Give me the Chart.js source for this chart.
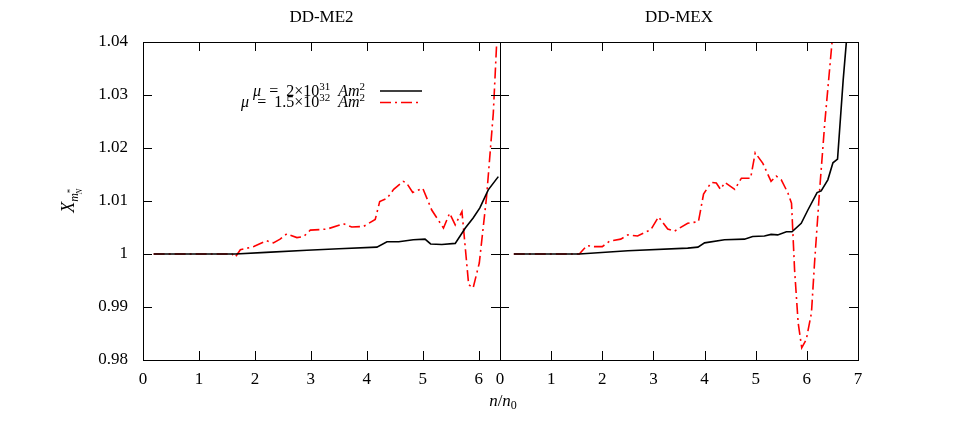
<!DOCTYPE html>
<html>
<head>
<meta charset="utf-8">
<script src="https://cdn.jsdelivr.net/npm/chart.js@4"></script>
<style>
body{margin:0;background:#fff;}
#wrap{position:relative;width:954px;height:424px;}
#wrap canvas{position:absolute;left:0;top:0;}
</style>
</head>
<body>
<div id="wrap">
<canvas id="me2" width="954" height="424"></canvas>
<canvas id="mex" width="954" height="424"></canvas>
</div>
<script>
// panel titles and tick values
const panelTitles = ["DD-ME2", "DD-MEX"];
const yTicks = [0.98, 0.99, 1.00, 1.01, 1.02, 1.03, 1.04];

// DD-ME2, mu = 2e31 Am^2
const me2BlackX = [0.19, 1.65, 2.2, 2.93, 3.5, 4.18, 4.36, 4.57, 4.83, 5.04, 5.14, 5.34, 5.58, 5.76, 5.90, 6.02, 6.17, 6.35];
const me2BlackY = [1, 1, 1.0003, 1.0007, 1.001, 1.0013, 1.0023, 1.0023, 1.0027, 1.0028, 1.0019, 1.0018, 1.002, 1.0049, 1.0068, 1.0087, 1.0121, 1.0146];
// DD-ME2, mu = 1.5e32 Am^2
const me2RedX = [0.19, 1.59, 1.65, 1.74, 1.98, 2.21, 2.33, 2.45, 2.57, 2.75, 2.87, 2.99, 3.29, 3.58, 3.73, 3.94, 4.15, 4.23, 4.36, 4.48, 4.65, 4.71, 4.82, 5.0, 5.16, 5.37, 5.48, 5.58, 5.70, 5.73, 5.82, 5.90, 6.01, 6.14, 6.26, 6.32, 6.36];
const me2RedY = [1, 1, 0.9994, 1.0008, 1.0014, 1.0025, 1.0021, 1.0028, 1.0038, 1.0031, 1.0033, 1.0045, 1.0047, 1.0057, 1.0051, 1.0052, 1.0065, 1.0099, 1.0105, 1.0122, 1.0137, 1.0134, 1.0116, 1.0124, 1.0083, 1.0049, 1.0077, 1.0055, 1.008, 1.0046, 0.9942, 0.9936, 0.9983, 1.0108, 1.0265, 1.0397, 1.046];

// DD-MEX, mu = 2e31 Am^2
const mexBlackX = [0.27, 1.55, 2.50, 3.67, 3.87, 4.0, 4.39, 4.78, 4.94, 5.17, 5.30, 5.43, 5.60, 5.71, 5.89, 6.02, 6.20, 6.28, 6.41, 6.51, 6.60, 6.71, 6.77, 6.80];
const mexBlackY = [1, 1, 1.0006, 1.0011, 1.0013, 1.0021, 1.0027, 1.0028, 1.0033, 1.0034, 1.0037, 1.0036, 1.0042, 1.0042, 1.0058, 1.0083, 1.0116, 1.0119, 1.014, 1.0172, 1.0179, 1.0328, 1.0397, 1.045];
// DD-MEX, mu = 1.5e32 Am^2
const mexRedX = [0.27, 1.55, 1.70, 1.84, 2.0, 2.14, 2.36, 2.50, 2.69, 2.95, 3.10, 3.28, 3.41, 3.67, 3.88, 3.98, 4.13, 4.23, 4.31, 4.40, 4.59, 4.72, 4.90, 4.99, 5.14, 5.30, 5.40, 5.50, 5.63, 5.70, 5.76, 5.83, 5.90, 5.99, 6.09, 6.15, 6.25, 6.35, 6.49, 6.52];
const mexRedY = [1, 1, 1.0016, 1.0014, 1.0014, 1.0024, 1.0028, 1.0036, 1.0034, 1.0046, 1.007, 1.0047, 1.0043, 1.0058, 1.0061, 1.0113, 1.0135, 1.0134, 1.0122, 1.0135, 1.0122, 1.0143, 1.0143, 1.0191, 1.0171, 1.0137, 1.0147, 1.014, 1.0115, 1.0096, 0.997, 0.987, 0.9823, 0.9839, 0.9889, 0.9983, 1.0121, 1.0247, 1.0397, 1.045];

const SERIF = "'Liberation Serif', 'DejaVu Serif', serif";
const redDash = [11, 4, 2, 4];

function pts(xs, ys) {
    return xs.map((x, i) => ({x: x, y: ys[i]}));
}

// draw a run of text pieces with their own fonts and baseline shifts
function drawRuns(ctx, runs, x, y, align) {
    let w = 0;
    runs.forEach(r => { ctx.font = r.f; r.w = ctx.measureText(r.t).width; w += r.w; });
    let cx = align === "right" ? x - w : (align === "center" ? x - w / 2 : x);
    ctx.textAlign = "left";
    ctx.textBaseline = "alphabetic";
    runs.forEach(r => { ctx.font = r.f; ctx.fillText(r.t, cx, y + (r.dy || 0)); cx += r.w; });
}

// gnuplot-like frame with inward ticks on all sides
const framePlugin = {
    id: "frame",
    afterDraw(chart, args, opts) {
        const ctx = chart.ctx, a = chart.chartArea;
        const xs = chart.scales.x, ys = chart.scales.y;
        ctx.save();
        ctx.strokeStyle = "#000";
        ctx.lineWidth = 1;
        ctx.beginPath();
        const L = 9;
        xs.ticks.forEach(t => {
            const px = Math.round(xs.getPixelForValue(t.value)) + 0.5;
            if (px <= a.left + 1 || px >= a.right - 1) return;
            ctx.moveTo(px, a.bottom); ctx.lineTo(px, a.bottom - L);
            ctx.moveTo(px, a.top); ctx.lineTo(px, a.top + L);
        });
        ys.ticks.forEach(t => {
            const py = Math.round(ys.getPixelForValue(t.value)) + 0.5;
            ctx.moveTo(a.left, py); ctx.lineTo(a.left + L, py);
            ctx.moveTo(a.right, py); ctx.lineTo(a.right - L, py);
        });
        ctx.stroke();
        ctx.strokeRect(Math.round(a.left) + 0.5, Math.round(a.top) + 0.5, Math.round(a.right - a.left), Math.round(a.bottom - a.top));

        ctx.fillStyle = "#000";
        ctx.font = "17px " + SERIF;
        ctx.textAlign = "center";
        ctx.textBaseline = "middle";
        ctx.fillText(opts.title, (a.left + a.right) / 2, 18);

        if (opts.legend) {
            const it = "italic 16px " + SERIF, rm = "16px " + SERIF, sup = "11px " + SERIF;
            drawRuns(ctx, [{t: "μ", f: it}, {t: "  =  2×10", f: rm}, {t: "31", f: sup, dy: -6}, {t: "  ", f: rm}, {t: "Am", f: it}, {t: "2", f: sup, dy: -6}], 365, 96, "right");
            drawRuns(ctx, [{t: "μ", f: it}, {t: "  =  1.5×10", f: rm}, {t: "32", f: sup, dy: -6}, {t: "  ", f: rm}, {t: "Am", f: it}, {t: "2", f: sup, dy: -6}], 365, 107, "right");
            ctx.lineWidth = 1.6;
            ctx.strokeStyle = "#000";
            ctx.beginPath(); ctx.moveTo(380, 91); ctx.lineTo(422, 91); ctx.stroke();
            ctx.strokeStyle = "#ff0000";
            ctx.setLineDash(redDash);
            ctx.beginPath(); ctx.moveTo(380, 102.5); ctx.lineTo(422, 102.5); ctx.stroke();
            ctx.setLineDash([]);

            // y axis title X_{m*_N}
            ctx.save();
            ctx.translate(74, 200);
            ctx.rotate(-Math.PI / 2);
            ctx.textAlign = "left";
            ctx.textBaseline = "alphabetic";
            ctx.font = "italic 18px " + SERIF;
            const wX = ctx.measureText("X").width;
            ctx.font = "italic 12px " + SERIF;
            const wm = ctx.measureText("m").width;
            const x0 = -(wX + wm + 6) / 2;
            ctx.font = "italic 18px " + SERIF;
            ctx.fillText("X", x0, 0);
            ctx.font = "italic 12px " + SERIF;
            ctx.fillText("m", x0 + wX, 4);
            ctx.font = "9px " + SERIF;
            ctx.fillText("*", x0 + wX + wm, -1);
            ctx.font = "italic 8px " + SERIF;
            ctx.fillText("N", x0 + wX + wm - 1, 8);
            ctx.restore();
        }
        if (opts.xTitle) {
            drawRuns(ctx, [{t: "n", f: "italic 17px " + SERIF}, {t: "/", f: "17px " + SERIF}, {t: "n", f: "italic 17px " + SERIF}, {t: "0", f: "12px " + SERIF, dy: 3}], 503, 406, "center");
        }
        ctx.restore();
    }
};

function makeChart(id, blackX, blackY, redX, redY, xMax, pad, showY, frameOpts) {
    return new Chart(document.getElementById(id), {
        type: "line",
        data: {
            datasets: [
                {label: "μ = 2×10^31 Am^2", data: pts(blackX, blackY), borderColor: "#000", borderWidth: 1.6, pointRadius: 0, tension: 0},
                {label: "μ = 1.5×10^32 Am^2", data: pts(redX, redY), borderColor: "#ff0000", borderWidth: 1.6, borderDash: redDash, pointRadius: 0, tension: 0}
            ]
        },
        options: {
            responsive: false,
            animation: false,
            events: [],
            layout: {padding: pad},
            plugins: {legend: {display: false}, tooltip: {enabled: false}, frame: frameOpts},
            scales: {
                x: {
                    type: "linear", min: 0, max: xMax,
                    grid: {display: false, drawTicks: false},
                    border: {display: false},
                    ticks: {stepSize: 1, includeBounds: false, autoSkip: false, maxRotation: 0, padding: 9, color: "#000", font: {family: SERIF, size: 17}},
                    afterFit: s => { s.height = 64; }
                },
                y: {
                    display: showY,
                    min: 0.98, max: 1.04,
                    grid: {display: false, drawTicks: false},
                    border: {display: false},
                    afterBuildTicks: s => { s.ticks = yTicks.map(v => ({value: v})); },
                    ticks: {padding: 15, color: "#000", font: {family: SERIF, size: 17},
                        callback: v => String(+v.toFixed(2))},
                    afterFit: s => { s.width = showY ? 143 : 0; }
                }
            }
        },
        plugins: [framePlugin]
    });
}

makeChart("me2", me2BlackX, me2BlackY, me2RedX, me2RedY, 6.38,
    {left: 0, right: 454, top: 42, bottom: 0}, true,
    {title: panelTitles[0], legend: true});
makeChart("mex", mexBlackX, mexBlackY, mexRedX, mexRedY, 7,
    {left: 500, right: 96, top: 42, bottom: 0}, false,
    {title: panelTitles[1], xTitle: true});
</script>
</body>
</html>
